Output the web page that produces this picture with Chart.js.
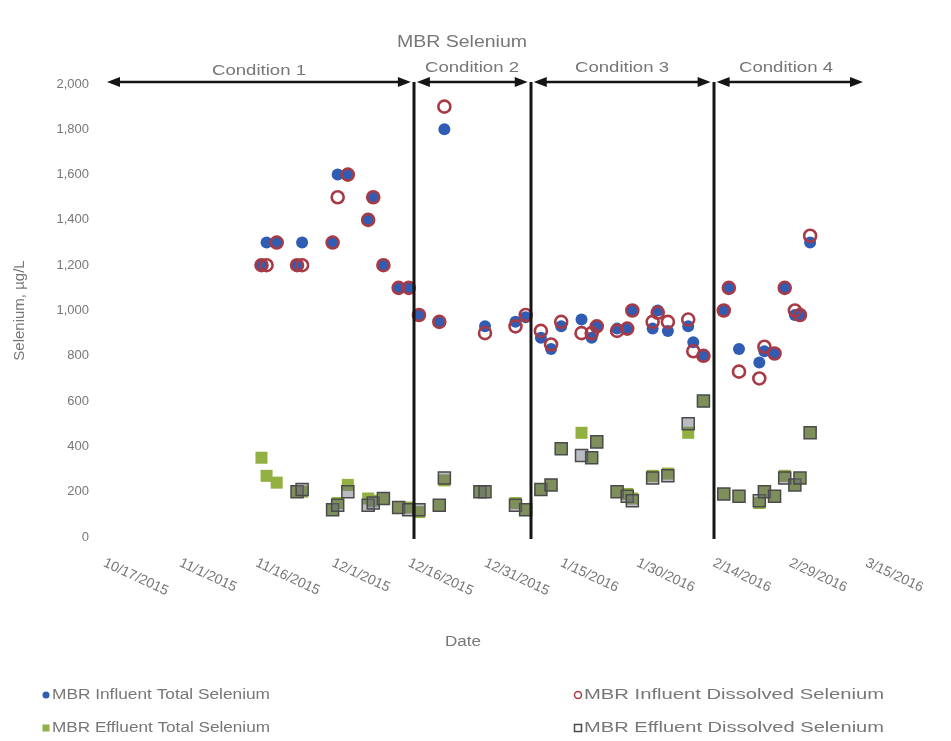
<!DOCTYPE html>
<html>
<head>
<meta charset="utf-8">
<script src="https://cdn.jsdelivr.net/npm/chart.js@4.4.1/dist/chart.umd.min.js"></script>
<style>
  html, body { margin: 0; padding: 0; background: #fff; }
  #wrap { width: 951px; height: 741px; }
</style>
</head>
<body>
<div id="wrap"><canvas id="chart"></canvas></div>
<script>
// sampling dates and concentrations (ug/L)
const influentDates = ['2015-11-17', '2015-11-18', '2015-11-20', '2015-11-24', '2015-11-25', '2015-12-01',
  '2015-12-02', '2015-12-04', '2015-12-08', '2015-12-09', '2015-12-11', '2015-12-14', '2015-12-16',
  '2015-12-18', '2015-12-22', '2015-12-23', '2015-12-31', '2016-01-06', '2016-01-08', '2016-01-11',
  '2016-01-13', '2016-01-15', '2016-01-19', '2016-01-21', '2016-01-22', '2016-01-26', '2016-01-28',
  '2016-01-29', '2016-02-02', '2016-02-03', '2016-02-05', '2016-02-09', '2016-02-10', '2016-02-12',
  '2016-02-16', '2016-02-17', '2016-02-19', '2016-02-23', '2016-02-24', '2016-02-26', '2016-02-28',
  '2016-03-01', '2016-03-02', '2016-03-04'];
const influentTotal = [1200, 1300, 1300, 1200, 1300, 1300, 1600, 1600, 1400, 1500, 1200, 1100, 1100,
  980, 950, 1800, 930, 950, 970, 880, 830, 930, 960, 880, 930, 920, 920, 1000, 920, 1000, 910, 930,
  860, 800, 1000, 1100, 830, 770, 820, 810, 1100, 980, 980, 1300];
const influentDissolved = [1200, 1200, 1300, 1200, 1200, 1300, 1500, 1600, 1400, 1500, 1200, 1100, 1100,
  980, 950, 1900, 900, 930, 980, 910, 850, 950, 900, 900, 930, 910, 920, 1000, 950, 990, 950, 960,
  820, 800, 1000, 1100, 730, 700, 840, 810, 1100, 1000, 980, 1330];

const effluentDates = ['2015-11-17', '2015-11-18', '2015-11-20', '2015-11-24', '2015-11-25', '2015-12-01',
  '2015-12-02', '2015-12-04', '2015-12-08', '2015-12-09', '2015-12-11', '2015-12-14', '2015-12-16',
  '2015-12-18', '2015-12-22', '2015-12-23', '2015-12-30', '2015-12-31', '2016-01-06', '2016-01-08',
  '2016-01-11', '2016-01-13', '2016-01-15', '2016-01-19', '2016-01-21', '2016-01-22', '2016-01-26',
  '2016-01-28', '2016-01-29', '2016-02-02', '2016-02-05', '2016-02-09', '2016-02-12', '2016-02-16',
  '2016-02-19', '2016-02-23', '2016-02-24', '2016-02-26', '2016-02-28', '2016-03-01', '2016-03-02',
  '2016-03-04'];
const effluentTotal = [350, 270, 240, 200, 200, 120, 150, 230, 170, 160, 170, 130, 130, 110, 140, 250,
  200, 200, 150, 120, 210, 230, 390, 460, 350, 420, 200, 190, 170, 270, 280, 460, 600, 190, 180, 150,
  200, 180, 270, 230, 260, 460];
const effluentDissolved = [null, null, null, 200, 210, 120, 140, 200, 140, 150, 170, 130, 120, 120, 140, 260,
  200, 200, 140, 120, 210, 230, 390, 360, 350, 420, 200, 180, 160, 260, 270, 500, 600, 190, 180, 160,
  200, 180, 260, 230, 260, 460];

const xTickLabels = ['10/17/2015', '11/1/2015', '11/16/2015', '12/1/2015', '12/16/2015', '12/31/2015',
  '1/15/2016', '1/30/2016', '2/14/2016', '2/29/2016', '3/15/2016'];
const conditionNames = ['Condition 1', 'Condition 2', 'Condition 3', 'Condition 4'];
const conditionBounds = ['2015-10-17', '2015-12-17', '2016-01-09', '2016-02-14', '2016-03-15'];

const FONT = "'Liberation Sans', Arial, sans-serif";
const TEXT = '#777777';
const BLUE = '#2f5db4';
const RED = '#a83a45';
const GREEN = '#93b043';
const DARK = '#4a4a4a';

const START = Date.UTC(2015, 9, 17);
function dayOf(s) {
  let y, m, d;
  if (s.includes('-')) [y, m, d] = s.split('-').map(Number);
  else [m, d, y] = s.split('/').map(Number);
  return (Date.UTC(y, m - 1, d) - START) / 86400000;
}
const toPoints = (dates, vals) =>
  dates.map((d, i) => ({ x: dayOf(d), y: vals[i] })).filter((p) => p.y !== null);

function stretchText(ctx, text, x, y, size, width, align) {
  ctx.font = size + 'px ' + FONT;
  const k = width ? width / ctx.measureText(text).width : 1;
  ctx.save();
  ctx.translate(x, y);
  ctx.scale(k, 1);
  ctx.textAlign = align || 'center';
  ctx.textBaseline = 'middle';
  ctx.fillText(text, 0, 0);
  ctx.restore();
}

function drawArrow(ctx, x1, x2, y) {
  const head = 13, half = 5;
  ctx.beginPath();
  ctx.moveTo(x1 + head - 2, y);
  ctx.lineTo(x2 - head + 2, y);
  ctx.stroke();
  ctx.beginPath();
  ctx.moveTo(x1, y); ctx.lineTo(x1 + head, y - half); ctx.lineTo(x1 + head, y + half);
  ctx.closePath(); ctx.fill();
  ctx.beginPath();
  ctx.moveTo(x2, y); ctx.lineTo(x2 - head, y - half); ctx.lineTo(x2 - head, y + half);
  ctx.closePath(); ctx.fill();
}

const decorations = {
  id: 'decorations',
  afterDatasetsDraw(chart) {
    const { ctx } = chart;
    const xs = chart.scales.x, ys = chart.scales.y;
    const top = ys.getPixelForValue(2000) - 2;
    const bottom = ys.getPixelForValue(0) + 2;

    ctx.save();
    ctx.strokeStyle = '#151515';
    ctx.fillStyle = '#151515';

    // condition boundaries
    ctx.lineWidth = 3;
    conditionBounds.slice(1, -1).forEach((b) => {
      const px = Math.round(xs.getPixelForValue(dayOf(b)));
      ctx.beginPath();
      ctx.moveTo(px, top);
      ctx.lineTo(px, bottom);
      ctx.stroke();
    });

    // arrows + labels
    ctx.lineWidth = 2.5;
    const centers = [259, 472, 622, 786];
    conditionNames.forEach((name, i) => {
      const x1 = xs.getPixelForValue(dayOf(conditionBounds[i])) + 3;
      const x2 = xs.getPixelForValue(dayOf(conditionBounds[i + 1])) - 3;
      drawArrow(ctx, x1, x2, top);
    });
    ctx.fillStyle = TEXT;
    conditionNames.forEach((name, i) => {
      stretchText(ctx, name, centers[i], i === 0 ? 71 : 68, 15, 94);
    });

    // title
    stretchText(ctx, 'MBR Selenium', 462, 43, 16, 130);

    // rotated date labels
    ctx.font = '14px ' + FONT;
    ctx.textAlign = 'left';
    ctx.textBaseline = 'top';
    xTickLabels.forEach((lab) => {
      const px = xs.getPixelForValue(dayOf(lab));
      ctx.save();
      ctx.translate(px + 3, 556);
      ctx.rotate(25 * Math.PI / 180);
      ctx.fillText(lab, 0, 0);
      ctx.restore();
    });
    stretchText(ctx, 'Date', 463, 642, 14, 36);

    // legend
    const items = [
      { text: 'MBR Influent Total Selenium', x: 46, y: 695, w: 218, shape: 'circle', fill: BLUE, stroke: null },
      { text: 'MBR Influent Dissolved Selenium', x: 578, y: 695, w: 300, shape: 'circle', fill: '#fff', stroke: RED },
      { text: 'MBR Effluent Total Selenium', x: 46, y: 728, w: 218, shape: 'rect', fill: GREEN, stroke: null },
      { text: 'MBR Effluent Dissolved Selenium', x: 578, y: 728, w: 300, shape: 'rect', fill: '#fff', stroke: DARK },
    ];
    items.forEach((it) => {
      ctx.beginPath();
      if (it.shape === 'circle') ctx.arc(it.x, it.y, 3.5, 0, Math.PI * 2);
      else ctx.rect(it.x - 3.5, it.y - 3.5, 7, 7);
      ctx.fillStyle = it.fill;
      ctx.fill();
      if (it.stroke) { ctx.lineWidth = 1.5; ctx.strokeStyle = it.stroke; ctx.stroke(); }
      ctx.fillStyle = TEXT;
      stretchText(ctx, it.text, it.x + 6, it.y, 14, it.w, 'left');
    });
    ctx.restore();
  },
};

new Chart(document.getElementById('chart'), {
  type: 'scatter',
  data: {
    datasets: [
      {
        label: 'MBR Influent Total Selenium',
        data: toPoints(influentDates, influentTotal),
        pointStyle: 'circle', pointRadius: 6,
        backgroundColor: BLUE, borderColor: BLUE, borderWidth: 0,
        order: 2,
      },
      {
        label: 'MBR Influent Dissolved Selenium',
        data: toPoints(influentDates, influentDissolved),
        pointStyle: 'circle', pointRadius: 6,
        backgroundColor: 'rgba(255,255,255,0)', borderColor: RED, borderWidth: 2.6,
        order: 1,
      },
      {
        label: 'MBR Effluent Total Selenium',
        data: toPoints(effluentDates, effluentTotal),
        pointStyle: 'rect', pointRadius: 8.5,
        backgroundColor: GREEN, borderColor: GREEN, borderWidth: 0,
        order: 3,
      },
      {
        label: 'MBR Effluent Dissolved Selenium',
        data: toPoints(effluentDates, effluentDissolved),
        pointStyle: 'rect', pointRadius: 8.5,
        backgroundColor: 'rgba(105,105,125,0.45)', borderColor: DARK, borderWidth: 1.5,
        order: 0,
      },
    ],
  },
  options: {
    responsive: true,
    maintainAspectRatio: false,
    animation: false,
    layout: { padding: { left: 0, top: 84, right: 85, bottom: 204 } },
    plugins: {
      legend: { display: false },
      tooltip: { enabled: false },
    },
    scales: {
      x: {
        type: 'linear', min: 0, max: 150,
        grid: { display: false }, border: { display: false },
        ticks: { display: false, stepSize: 15 },
        afterFit: (s) => { s.height = 0; },
      },
      y: {
        min: 0, max: 2000,
        grid: { display: false, drawTicks: false }, border: { display: false },
        ticks: {
          stepSize: 200, padding: 15, color: TEXT,
          font: { family: FONT, size: 13 },
          callback: (v) => v.toLocaleString('en-US'),
        },
        title: {
          display: true, text: 'Selenium, µg/L', color: TEXT,
          font: { family: FONT, size: 15 }, padding: { top: 11, bottom: 0 },
        },
        afterFit: (s) => { s.width = 104; },
      },
    },
  },
  plugins: [decorations],
});
</script>
</body>
</html>
